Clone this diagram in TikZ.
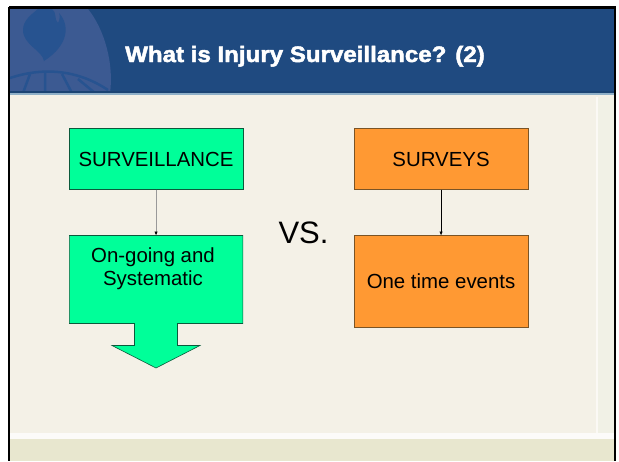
\documentclass[tikz,border=0pt]{standalone}
\usepackage{fontspec}
\setmainfont{Liberation Sans}
\newfontfamily\titlefont[FakeStretch=1.08,FakeBold=2.2]{Liberation Sans Bold}
\usetikzlibrary{arrows.meta}
\definecolor{bannerblue}{HTML}{1F4A80}
\definecolor{bannerdark}{HTML}{1B4474}
\definecolor{crestblue}{HTML}{3C5A92}
\definecolor{flameblue}{HTML}{275390}
\definecolor{bandline}{HTML}{8FB0C8}
\definecolor{paper}{HTML}{F4F1E7}
\definecolor{paperright}{HTML}{F1F1E6}
\definecolor{footerband}{HTML}{E8E7CF}
\definecolor{springgreen}{HTML}{00FF99}
\definecolor{boxorange}{HTML}{FF9933}
\definecolor{edgegreen}{HTML}{0B5A3C}
\definecolor{edgeorange}{HTML}{7A5426}
\tikzset{
  greenbox/.style={draw=edgegreen,line width=0.6pt,fill=springgreen,minimum width=173.5pt,anchor=north west,inner sep=0pt,outer sep=0pt,text=black,font=\fontsize{20.4}{24}\selectfont,align=center},
  orangebox/.style={draw=edgeorange,line width=0.6pt,fill=boxorange,minimum width=173.5pt,anchor=north west,inner sep=0pt,outer sep=0pt,text=black,font=\fontsize{20.4}{24}\selectfont,align=center},
  greylink/.style={draw=black!40,line width=1pt,-{Latex[length=4pt,width=3.5pt,black]}},
  blacklink/.style={draw=black,line width=0.6pt,-{Latex[length=4pt,width=3.5pt,black]}}
}
\begin{document}
\begin{tikzpicture}[x=1pt,y=-1pt]
\useasboundingbox (0,0) rectangle (619,461);
\fill[white] (0,0) rectangle (619,461);
% page
\fill[paper] (9,9) rectangle (614,461);
\fill[paperright] (598,97) rectangle (614,433);
\fill[footerband] (9,439) rectangle (614,461);
\fill[white!75!paper] (9,432.5) rectangle (614,438.5);
\fill[white!60!paper] (595.5,97) rectangle (597.5,433);
% banner
\fill[bannerblue] (10,9) rectangle (614,92);
\begin{scope}
\clip (10,9) rectangle (614,92);
\fill[crestblue] (10,9) -- (88,9) .. controls (105,30) and (114,65) .. (110,93) -- (10,93) -- cycle;
\fill[flameblue] (44,61) .. controls (42,50) and (23,45) .. (23,30) .. controls (23,20) and (32,14) .. (38,9) -- (52,9) .. controls (57,12) and (54,20) .. (58,23) .. controls (60,20) and (60,15) .. (59,13) .. controls (70,25) and (69,45) .. (44,61) -- cycle;
\draw[flameblue,line width=2.5pt] (10,78) .. controls (40,68) and (75,68) .. (108,90);
\draw[flameblue,line width=2.5pt] (45,72) -- (45,93) (30,74) -- (23,93) (62,74) -- (72,93) (78,79) -- (95,93);
\end{scope}
\fill[bannerdark] (10,91) rectangle (614,93);
\fill[bandline] (10,93) rectangle (614,95);
% frame
\draw[black,line width=2.4pt] (9,7.5) -- (615.5,7.5) (9,6.5) -- (9,461) (615,6.5) -- (615,461);
% title
\node[text=white,font=\titlefont\fontsize{22.3}{26}\selectfont,anchor=base] (title) at (305,62) {What is Injury Surveillance? (2)};
% boxes
\node[greenbox,minimum height=61pt] (surv) at (69.3,128.5) {SURVEILLANCE};
\draw[edgegreen,line width=0.6pt,fill=springgreen] (69.3,235.5) -- (242.8,235.5) -- (242.8,323.5) -- (177.5,323.5) -- (177.5,345.5) -- (200,345.5) -- (156,368) -- (112,345.5) -- (134.5,345.5) -- (134.5,323.5) -- (69.3,323.5) -- cycle;
\node[inner sep=0pt,outer sep=0pt,minimum width=173.5pt,minimum height=88pt,anchor=north west] (ongoing) at (69.3,235.5) {};
\node[align=center,font=\fontsize{20.4}{23.5}\selectfont,anchor=center] (ongoingtext) at (153,268.5) {On-going and\\Systematic};
\node[orangebox,minimum height=61pt] (srv) at (354.3,128.5) {SURVEYS};
\node[orangebox,minimum height=92pt] (one) at (354.3,235.5) {One time events};
\node[font=\fontsize{31}{36}\selectfont] (vs) at (303.5,233) {VS.};
\draw[greylink] (surv.south) -- (ongoing.north);
\draw[blacklink] (srv.south) -- (one.north);
\end{tikzpicture}
\end{document}
